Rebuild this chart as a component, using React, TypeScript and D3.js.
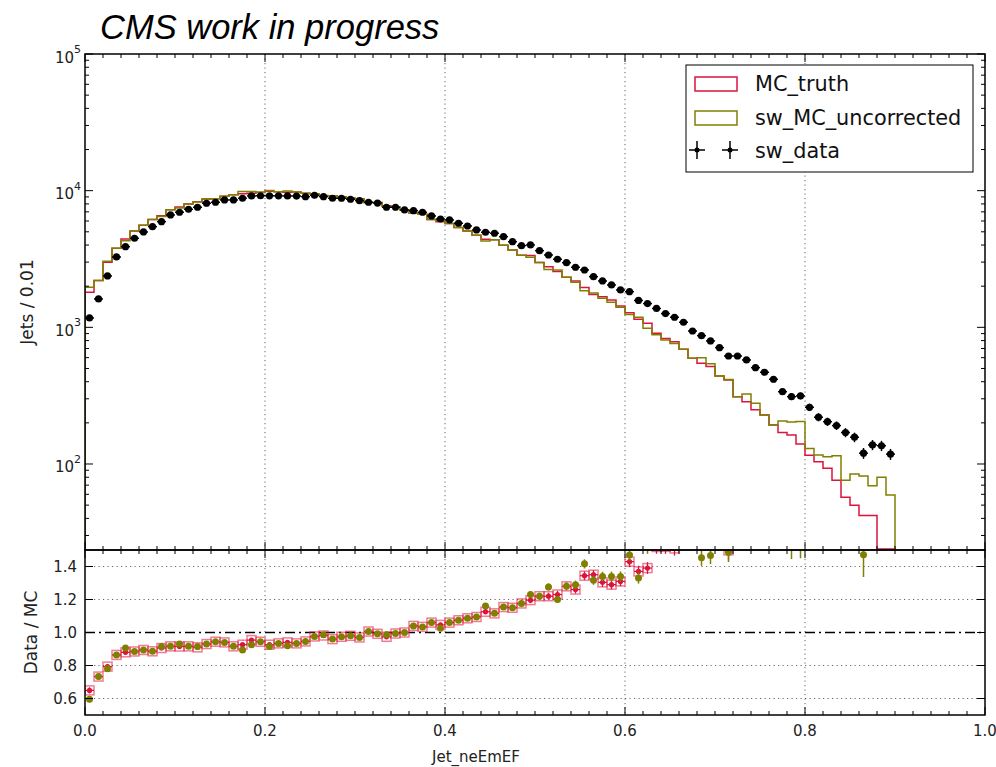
import React from 'react';
import * as d3 from 'd3';

// ---- data (bins of width 0.01 from 0.0 to 0.9) ----
const binWidth = 0.01;

const swData = [
  1171, 1613, 2377, 3272, 3893, 4484, 4986, 5452, 5933, 6641,
  6950, 7310, 7560, 8089, 8226, 8550, 8550, 8798, 9150, 9180,
  9170, 9160, 9150, 9130, 9040, 9256, 9040, 8798, 8800, 8650,
  8450, 8226, 8120, 7560, 7560, 7225, 7140, 6950, 6530, 6206,
  6103, 5774, 5516, 5157, 4961, 4878, 4607, 4235, 3959, 4006,
  3639, 3384, 3148, 2973, 2751, 2628, 2348, 2184, 2042, 1877,
  1824, 1573, 1492, 1374, 1261, 1185, 1089, 940, 869, 795,
  710, 617, 617, 577, 507, 469, 417, 338, 311, 315,
  260, 220, 204, 191, 170, 157, 120, 138, 136, 118,
];

const mcTruth = [
  1804, 2201, 2997, 3787, 4424, 5067, 5577, 6153, 6549, 7250,
  7596, 7980, 8308, 8698, 8714, 9096, 9334, 9501, 9591, 9725,
  9903, 9807, 9734, 9775, 9556, 9484, 9206, 9165, 9035, 8827,
  8711, 8177, 8185, 7762, 7606, 7225, 6865, 6721, 6160, 5933,
  5758, 5376, 5079, 4714, 4406, 4371, 3992, 3683, 3366, 3349,
  2983, 2774, 2559, 2323, 2183, 1955, 1739, 1675, 1583, 1433,
  1276, 1148, 1073, 905, 830, 785, 691, 594, 546, 516,
  441, 412, 311, 286, 249, 228, 193, 170, 163, 140,
  116, 104, 93, 76, 57, 50, 42, 42, 0, 0,
];

const mcUncorrected = [
  1968, 2201, 3047, 3787, 4297, 5067, 5577, 6153, 6484, 7250,
  7473, 7980, 8262, 8698, 8714, 9096, 9334, 9841, 9881, 9725,
  10022, 9807, 9946, 9775, 9556, 9484, 9168, 9165, 9035, 8827,
  8711, 8177, 8185, 7667, 7606, 7225, 6865, 6721, 6160, 6049,
  5758, 5376, 5079, 4714, 4277, 4371, 3992, 3683, 3366, 3257,
  2983, 2652, 2623, 2323, 2133, 1856, 1784, 1630, 1524, 1401,
  1241, 1183, 984, 881, 808, 760, 691, 594, 598, 542,
  441, 415, 311, 325, 278, 228, 193, 206, 203, 205,
  130, 116.5, 113, 115, 76, 84.6, 81.6, 69.4, 80, 59.3,
];

const xTickValues = [0, 0.2, 0.4, 0.6, 0.8, 1.0];
const xGridValues = [0.2, 0.4, 0.6, 0.8];
const ratioTickValues = [0.6, 0.8, 1.0, 1.2, 1.4];
const ratioGridValues = [0.6, 0.8, 1.2, 1.4];
const logDecades = [2, 3, 4, 5];
const legendLabels = ['MC_truth', 'sw_MC_uncorrected', 'sw_data'];

const RED = '#dc143c';
const OLIVE = '#808000';
const FONT = 'DejaVu Sans, Verdana, sans-serif';

export default function App() {
  const L = 85, R = 985, T = 54, M = 550, B = 715;
  const x = d3.scaleLinear().domain([0, 1]).range([L, R]);
  const yM = d3.scaleLog().domain([Math.pow(10, 1.3707), 1e5]).range([M, T]);
  const yR = d3.scaleLinear().domain([0.5, 1.5]).range([B, M]);
  const yv = (v: number) => (v > 0 ? yM(v) : M - 1);

  const line = d3.line();
  const stepPath = (vals: number[]) => {
    const pts: [number, number][] = [[x(0), M + 2]];
    vals.forEach((v, i) => {
      pts.push([x(i * binWidth), yv(v)]);
      pts.push([x((i + 1) * binWidth), yv(v)]);
    });
    pts.push([x(vals.length * binWidth), M + 2]);
    return line(pts) || '';
  };

  const centers = swData.map((_, i) => (i + 0.5) * binWidth);
  const half = binWidth / 2;

  // minor ticks
  const xMinor = d3.range(0, 50).map((k) => k * 0.02).filter((v) => Math.abs(v / 0.2 - Math.round(v / 0.2)) > 1e-6);
  const logMinor: number[] = [];
  [1, 2, 3, 4].forEach((d) => {
    for (let m = 2; m <= 9; m++) {
      const v = m * Math.pow(10, d);
      if (v > Math.pow(10, 1.3707) && v < 1e5) logMinor.push(v);
    }
  });

  const gridStyle = { stroke: '#000', strokeWidth: 0.8, strokeDasharray: '1.2 3.3', opacity: 0.75 };

  return (
    <svg width={996} height={767} style={{ position: 'absolute', left: 0, top: 0, background: '#fff' }} fontFamily={FONT}>
      <defs>
        <clipPath id="clipMain"><rect x={L} y={T} width={R - L} height={M - T} /></clipPath>
        <clipPath id="clipRatio"><rect x={L} y={M} width={R - L} height={B - M} /></clipPath>
      </defs>
      <rect x={0} y={0} width={996} height={767} fill="#fff" />

      {/* title */}
      <text x={100} y={39} fontFamily="Liberation Sans, Arial, sans-serif" fontStyle="italic" fontSize={34.5} fill="#000">CMS work in progress</text>

      {/* grids */}
      {xGridValues.map((v) => (
        <g key={'g' + v}>
          <line x1={x(v)} x2={x(v)} y1={T} y2={M} {...gridStyle} />
          <line x1={x(v)} x2={x(v)} y1={M} y2={B} {...gridStyle} />
        </g>
      ))}
      {ratioGridValues.map((v) => (
        <line key={'rg' + v} x1={L} x2={R} y1={yR(v)} y2={yR(v)} {...gridStyle} />
      ))}
      <line x1={L} x2={R} y1={yR(1)} y2={yR(1)} stroke="#000" strokeWidth={1.6} strokeDasharray="10 4 2 4" />

      {/* main panel */}
      <g clipPath="url(#clipMain)">
        <path d={stepPath(mcTruth)} fill="none" stroke={RED} strokeWidth={1.5} />
        <path d={stepPath(mcUncorrected)} fill="none" stroke={OLIVE} strokeWidth={1.5} />
        {swData.map((v, i) => {
          const e = Math.sqrt(v);
          const cx = x(centers[i]);
          return (
            <g key={'d' + i}>
              <line x1={x(centers[i] - half)} x2={x(centers[i] + half)} y1={yM(v)} y2={yM(v)} stroke="#000" strokeWidth={1.5} />
              <line x1={cx} x2={cx} y1={yM(v - e)} y2={yM(v + e)} stroke="#000" strokeWidth={1.5} />
              <circle cx={cx} cy={yM(v)} r={3.6} fill="#000" />
            </g>
          );
        })}
      </g>

      {/* ratio panel */}
      <g clipPath="url(#clipRatio)">
        {swData.map((v, i) => {
          const mc = mcTruth[i];
          if (!(mc > 0)) return null;
          const r = v / mc;
          const e = r / Math.sqrt(v);
          const cx = x(centers[i]);
          const cy = yR(r);
          return (
            <g key={'rt' + i}>
              <rect x={cx - 4.5} y={cy - 4.5} width={9} height={9} fill="none" stroke={RED} strokeOpacity={0.55} strokeWidth={1.5} />
              <line x1={x(centers[i] - half)} x2={x(centers[i] + half)} y1={cy} y2={cy} stroke={RED} strokeWidth={1.3} />
              <line x1={cx} x2={cx} y1={yR(r - e)} y2={yR(r + e)} stroke={RED} strokeWidth={1.3} />
              <circle cx={cx} cy={cy} r={2.6} fill={RED} />
            </g>
          );
        })}
        {swData.map((v, i) => {
          const mc = mcUncorrected[i];
          if (!(mc > 0)) return null;
          const r = v / mc;
          const e = r / Math.sqrt(v);
          const cx = x(centers[i]);
          const cy = yR(r);
          return (
            <g key={'ru' + i}>
              <line x1={cx - 3} x2={cx + 3} y1={cy} y2={cy} stroke={OLIVE} strokeWidth={1.3} />
              <line x1={cx} x2={cx} y1={yR(r - e)} y2={yR(r + e)} stroke={OLIVE} strokeWidth={1.5} />
              <circle cx={cx} cy={cy} r={3.5} fill={OLIVE} />
            </g>
          );
        })}
      </g>

      {/* x ticks */}
      {xTickValues.map((v) => (
        <g key={'xt' + v}>
          <line x1={x(v)} x2={x(v)} y1={T} y2={T + 8} stroke="#000" />
          <line x1={x(v)} x2={x(v)} y1={M} y2={M - 8} stroke="#000" />
          <line x1={x(v)} x2={x(v)} y1={M} y2={M + 8} stroke="#000" />
          <line x1={x(v)} x2={x(v)} y1={B} y2={B - 8} stroke="#000" />
          <text x={x(v)} y={736} textAnchor="middle" fontSize={15} fill="#222">{d3.format('.1f')(v)}</text>
        </g>
      ))}
      {xMinor.map((v) => (
        <g key={'xm' + v}>
          <line x1={x(v)} x2={x(v)} y1={T} y2={T + 4} stroke="#000" />
          <line x1={x(v)} x2={x(v)} y1={M} y2={M - 4} stroke="#000" />
          <line x1={x(v)} x2={x(v)} y1={M} y2={M + 4} stroke="#000" />
          <line x1={x(v)} x2={x(v)} y1={B} y2={B - 4} stroke="#000" />
        </g>
      ))}

      {/* main y ticks */}
      {logDecades.map((d) => {
        const v = Math.pow(10, d);
        const yy = yM(v);
        return (
          <g key={'yt' + d}>
            <line x1={L} x2={L + 8} y1={yy} y2={yy} stroke="#000" />
            <line x1={R} x2={R - 8} y1={yy} y2={yy} stroke="#000" />
            <text x={81} y={yy + 8.5} textAnchor="end" fontSize={15} fill="#222">
              10<tspan fontSize={11} dy={-9.5}>{d}</tspan>
            </text>
          </g>
        );
      })}
      {logMinor.map((v) => (
        <g key={'ym' + v}>
          <line x1={L} x2={L + 4} y1={yM(v)} y2={yM(v)} stroke="#000" />
          <line x1={R} x2={R - 4} y1={yM(v)} y2={yM(v)} stroke="#000" />
        </g>
      ))}

      {/* ratio y ticks */}
      {ratioTickValues.map((v) => (
        <g key={'rt' + v}>
          <line x1={L} x2={L + 8} y1={yR(v)} y2={yR(v)} stroke="#000" />
          <line x1={R} x2={R - 8} y1={yR(v)} y2={yR(v)} stroke="#000" />
          <text x={77} y={yR(v) + 5.5} textAnchor="end" fontSize={15} fill="#222">{d3.format('.1f')(v)}</text>
        </g>
      ))}

      {/* frames */}
      <rect x={L} y={T} width={R - L} height={M - T} fill="none" stroke="#000" strokeWidth={1.5} />
      <rect x={L} y={M} width={R - L} height={B - M} fill="none" stroke="#000" strokeWidth={1.5} />

      {/* axis labels */}
      <text transform={`translate(33,${(T + M) / 2}) rotate(-90)`} textAnchor="middle" fontSize={17} fill="#222">Jets / 0.01</text>
      <text transform={`translate(37,${(M + B) / 2}) rotate(-90)`} textAnchor="middle" fontSize={17} fill="#222">Data / MC</text>
      <text x={476} y={762} textAnchor="middle" fontSize={15} fill="#222">Jet_neEmEF</text>

      {/* legend */}
      <g>
        <rect x={686} y={65} width={287} height={107} fill="#fff" stroke="#000" strokeWidth={1} />
        <rect x={695} y={77} width={42} height={14} fill="none" stroke={RED} strokeWidth={1.5} />
        <text x={755} y={91} fontSize={20.8} fill="#111">{legendLabels[0]}</text>
        <rect x={695} y={111} width={42} height={14} fill="none" stroke={OLIVE} strokeWidth={1.5} />
        <text x={755} y={125} fontSize={20.8} fill="#111">{legendLabels[1]}</text>
        {[697, 730].map((cx) => (
          <g key={'lg' + cx}>
            <line x1={cx - 8} x2={cx + 8} y1={150} y2={150} stroke="#000" strokeWidth={1.5} />
            <line x1={cx} x2={cx} y1={141} y2={159} stroke="#000" strokeWidth={1.5} />
            <circle cx={cx} cy={150} r={2.5} fill="#000" />
          </g>
        ))}
        <text x={755} y={158} fontSize={20.8} fill="#111">{legendLabels[2]}</text>
      </g>
    </svg>
  );
}
